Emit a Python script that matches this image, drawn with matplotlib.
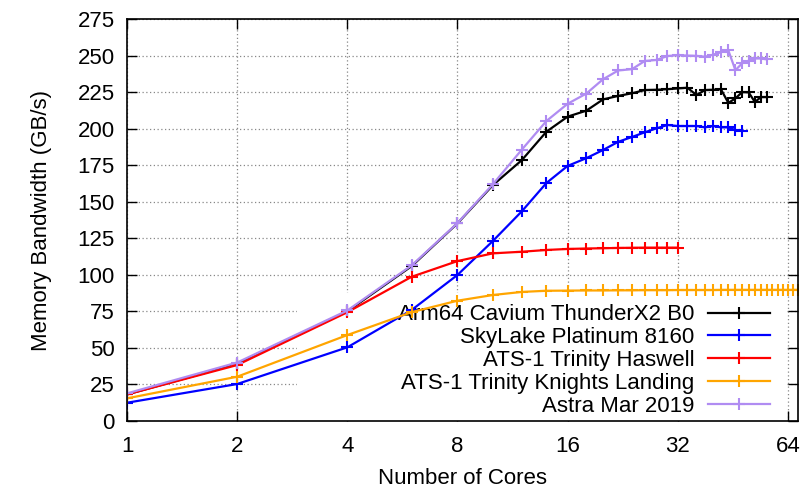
import matplotlib
matplotlib.use("Agg")
import matplotlib.pyplot as plt
from matplotlib.patches import Rectangle

plt.rcParams['font.family'] = ['Liberation Sans', 'DejaVu Sans']

# コア数
cores_tx2 = [1, 2, 4, 6, 8, 10, 12, 14, 16, 18, 20, 22, 24, 26, 28, 30, 32,
             34, 36, 38, 40, 42, 44, 46, 48, 50, 52, 54, 56]
cores_skl = [1, 2, 4, 6, 8, 10, 12, 14, 16, 18, 20, 22, 24, 26, 28, 30, 32,
             34, 36, 38, 40, 42, 44, 46, 48]
cores_hsw = [1, 2, 4, 6, 8, 10, 12, 14, 16, 18, 20, 22, 24, 26, 28, 30, 32]
cores_knl = [1, 2, 4, 6, 8, 10, 12, 14, 16, 18, 20, 22, 24, 26, 28, 30, 32,
             34, 36, 38, 40, 42, 44, 46, 48, 50, 52, 54, 56, 58, 60, 62, 64,
             66, 68]

# メモリ帯域 (GB/s)
bw_tx2 = [18.2, 39.0, 75.0, 106.0, 135.2, 161.4, 178.5, 197.9, 208.2, 212.3,
          220.0, 222.4, 224.2, 226.4, 226.6, 227.0, 227.5, 228.0, 223.0, 226.4,
          226.6, 226.9, 217.6, 220.7, 225.0, 224.8, 218.2, 221.6, 221.6]
bw_skl = [12.5, 25.3, 50.4, 76.0, 99.9, 123.2, 143.5, 162.8, 174.5, 179.8,
          185.4, 191.0, 194.3, 197.5, 200.2, 202.5, 201.8, 201.8, 201.8, 200.9,
          201.8, 200.9, 200.9, 199.0, 198.6]
bw_hsw = [18.2, 38.3, 74.4, 98.7, 109.4, 114.7, 115.8, 117.0, 117.7, 118.0,
          118.2, 118.4, 118.5, 118.6, 118.6, 118.6, 118.6]
bw_knl = [15.5, 30.3, 58.8, 74.5, 82.3, 86.2, 88.3, 89.1, 89.2, 89.3, 89.3,
          89.4, 89.4, 89.5, 89.5, 89.5, 89.6, 89.6, 89.6, 89.6, 89.6, 89.7,
          89.7, 89.7, 89.7, 89.7, 89.7, 89.7, 89.7, 89.7, 89.7, 89.7, 89.7,
          89.7, 89.7]
bw_astra = [18.9, 40.0, 75.6, 106.5, 135.4, 162.0, 185.7, 205.2, 217.0, 224.0,
            233.8, 239.8, 240.7, 246.3, 247.0, 249.7, 250.2, 250.0, 249.8,
            249.2, 250.6, 252.3, 253.5, 240.0, 244.7, 246.5, 248.0, 248.0,
            247.4]

series = [
    ('Arm64 Cavium ThunderX2 B0', cores_tx2, bw_tx2, 'black'),
    ('SkyLake Platinum 8160', cores_skl, bw_skl, '#0000ff'),
    ('ATS-1 Trinity Haswell', cores_hsw, bw_hsw, '#ff0000'),
    ('ATS-1 Trinity Knights Landing', cores_knl, bw_knl, '#ffa500'),
    ('Astra Mar 2019', cores_tx2, bw_astra, '#b08cf2'),
]

xticks = [1, 2, 4, 8, 16, 32, 64]
yticks = [0, 25, 50, 75, 100, 125, 150, 175, 200, 225, 250, 275]

fs = 16

fig = plt.figure(figsize=(8.02, 4.90), dpi=100)
ax = fig.add_axes([0.1584, 0.1408, 0.8366, 0.8204])

for label, x, y, c in series:
    ax.plot(x, y, color=c, lw=1.6, marker='+', ms=8, mew=1.5, label=label,
            zorder=2)

ax.set_xscale('log', base=2)
ax.set_xlim(1, 68.2)
ax.set_ylim(0, 275)
ax.set_xticks(xticks)
ax.set_xticklabels([str(t) for t in xticks])
ax.minorticks_off()
ax.set_yticks(yticks)

ax.set_axisbelow(True)
ax.grid(True, color='#888888', linestyle=(0, (1, 2)), lw=0.9)
ax.tick_params(direction='in', length=7, width=1, labelsize=fs, pad=9,
               top=True, right=True)
ax.tick_params(axis='x', pad=11)
for s in ax.spines.values():
    s.set_linewidth(1.2)

ax.set_xlabel('Number of Cores', fontsize=fs, labelpad=8)
ax.set_ylabel('Memory Bandwidth (GB/s)', fontsize=fs, labelpad=18)

# 凡例の背景 (グリッドだけ隠す)
ax.add_patch(Rectangle((0.253, 0.0), 0.728, 0.318, transform=ax.transAxes,
                       facecolor='white', edgecolor='none', zorder=1.2))

leg = ax.legend(loc='upper right', bbox_to_anchor=(0.958, 0.29),
                frameon=False, markerfirst=False, fontsize=fs,
                handlelength=2.8, handletextpad=0.6, labelspacing=0.08,
                borderpad=0, borderaxespad=0)
leg.set_zorder(1.5)

fig.savefig('out.png', dpi=100)
